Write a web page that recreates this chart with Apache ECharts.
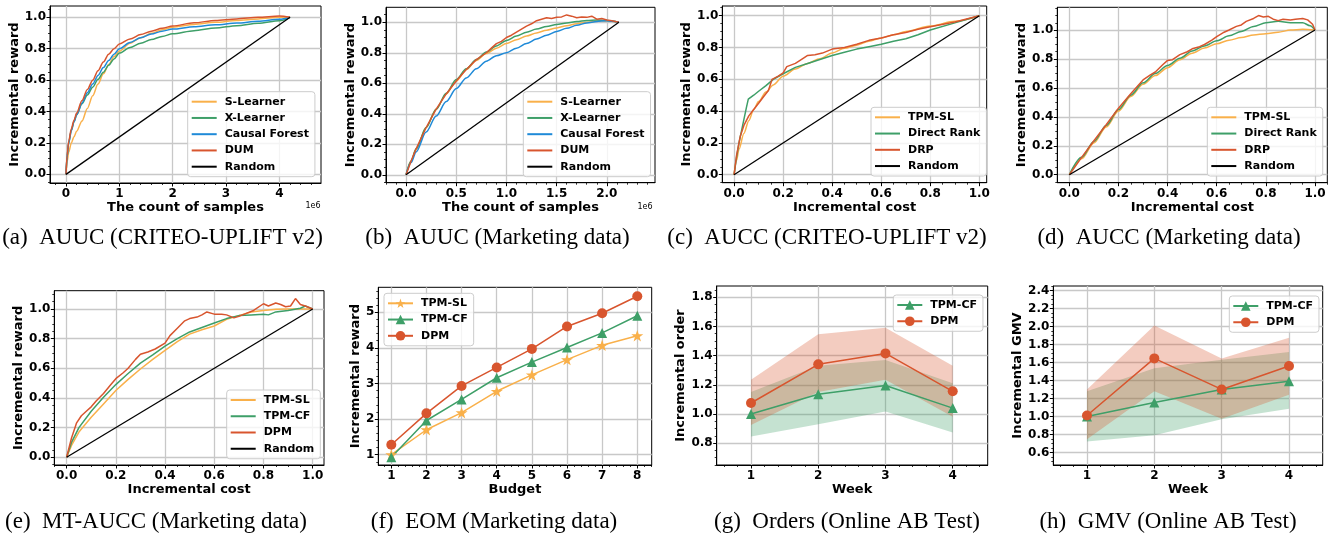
<!DOCTYPE html>
<html><head><meta charset="utf-8">
<script src="https://cdn.jsdelivr.net/npm/echarts@6/dist/echarts.min.js"></script>
<style>
html,body{margin:0;padding:0;background:#fff;}
#wrap{position:relative;width:1338px;height:540px;overflow:hidden;background:#fff;}
.pane{position:absolute;left:0;top:0;width:1338px;height:540px;}
</style></head><body><div id="wrap"></div>
<script>
// ---------------- DATA ----------------
// (a) AUUC CRITEO-UPLIFT v2 ; x in units of 1e6 samples
const xA   = [0, 0.02, 0.05, 0.1, 0.15, 0.2, 0.3, 0.4, 0.5, 0.6, 0.7, 0.8, 0.9, 1.0, 1.2, 1.4, 1.6, 1.8, 2.0, 2.4, 2.8, 3.2, 3.6, 4.0, 4.2];
const aSL  = [0, 0.08, 0.14, 0.20, 0.24, 0.275, 0.34, 0.42, 0.50, 0.575, 0.64, 0.70, 0.75, 0.785, 0.835, 0.87, 0.898, 0.92, 0.937, 0.955, 0.968, 0.98, 0.99, 1.0, 1.0];
const aXL  = [0, 0.11, 0.20, 0.28, 0.335, 0.38, 0.45, 0.505, 0.555, 0.605, 0.65, 0.695, 0.735, 0.772, 0.808, 0.835, 0.858, 0.878, 0.895, 0.915, 0.932, 0.947, 0.962, 0.978, 1.0];
const aCF  = [0, 0.11, 0.20, 0.28, 0.335, 0.38, 0.455, 0.52, 0.575, 0.63, 0.68, 0.725, 0.765, 0.80, 0.84, 0.87, 0.893, 0.912, 0.925, 0.94, 0.952, 0.963, 0.975, 0.987, 1.0];
const aDUM = [0, 0.12, 0.21, 0.29, 0.345, 0.39, 0.47, 0.54, 0.60, 0.66, 0.715, 0.765, 0.80, 0.83, 0.862, 0.89, 0.912, 0.93, 0.945, 0.965, 0.98, 0.99, 1.0, 1.008, 1.0];
const aRandX = [0, 4.2];
const aRand  = [0, 1];

// (b) AUUC Marketing data ; x in units of 1e6 samples
const xB   = [0, 0.05, 0.1, 0.2, 0.3, 0.4, 0.5, 0.6, 0.7, 0.8, 0.9, 1.0, 1.1, 1.2, 1.3, 1.4, 1.5, 1.6, 1.7, 1.8, 1.9, 2.0, 2.12];
const bSL  = [0, 0.09, 0.17, 0.31, 0.43, 0.53, 0.615, 0.69, 0.75, 0.795, 0.83, 0.86, 0.885, 0.91, 0.93, 0.948, 0.963, 0.977, 0.99, 1.0, 1.008, 1.01, 1.0];
const bXL  = [0, 0.09, 0.17, 0.31, 0.43, 0.535, 0.625, 0.695, 0.755, 0.805, 0.845, 0.88, 0.91, 0.935, 0.955, 0.972, 0.985, 0.995, 1.005, 1.012, 1.015, 1.012, 1.0];
const bCF  = [0, 0.08, 0.15, 0.28, 0.385, 0.48, 0.565, 0.635, 0.695, 0.745, 0.78, 0.80, 0.83, 0.86, 0.89, 0.915, 0.94, 0.96, 0.98, 0.995, 1.005, 1.01, 1.0];
const xBD  = [0, 0.05, 0.1, 0.2, 0.3, 0.4, 0.5, 0.6, 0.7, 0.8, 0.85, 0.9, 0.95, 1.0, 1.05, 1.1, 1.15, 1.2, 1.25, 1.3, 1.35, 1.4, 1.45, 1.5, 1.55, 1.6, 1.65, 1.7, 1.75, 1.8, 1.85, 1.9, 1.95, 2.0, 2.05, 2.12];
const bDUM = [0, 0.09, 0.17, 0.31, 0.43, 0.53, 0.615, 0.69, 0.755, 0.80, 0.83, 0.86, 0.875, 0.90, 0.915, 0.935, 0.955, 0.975, 0.99, 1.01, 1.02, 1.03, 1.025, 1.033, 1.035, 1.048, 1.04, 1.03, 1.035, 1.032, 1.04, 1.02, 1.025, 1.015, 1.01, 1.0];
const bRandX = [0, 2.12];
const bRand  = [0, 1];

// (c) AUCC CRITEO-UPLIFT v2
const cSL  = [[0,0],[0.01,0.09],[0.02,0.16],[0.04,0.26],[0.06,0.34],[0.08,0.41],[0.1,0.46],[0.13,0.52],[0.16,0.565],[0.2,0.62],[0.25,0.665],[0.3,0.70],[0.35,0.73],[0.4,0.765],[0.45,0.795],[0.5,0.815],[0.55,0.84],[0.6,0.86],[0.65,0.88],[0.7,0.90],[0.8,0.935],[0.9,0.965],[1,1]];
const cDR  = [[0,0],[0.01,0.11],[0.02,0.2],[0.035,0.31],[0.05,0.42],[0.058,0.475],[0.08,0.5],[0.1,0.525],[0.13,0.56],[0.16,0.6],[0.2,0.635],[0.25,0.675],[0.3,0.70],[0.35,0.725],[0.4,0.75],[0.45,0.77],[0.5,0.79],[0.55,0.805],[0.6,0.82],[0.65,0.84],[0.7,0.855],[0.75,0.88],[0.8,0.91],[0.9,0.955],[1,1]];
const cDRP = [[0,0],[0.01,0.12],[0.025,0.24],[0.04,0.31],[0.06,0.37],[0.08,0.41],[0.1,0.45],[0.12,0.49],[0.14,0.53],[0.155,0.6],[0.18,0.62],[0.2,0.64],[0.215,0.68],[0.25,0.70],[0.28,0.73],[0.3,0.75],[0.33,0.755],[0.36,0.765],[0.4,0.79],[0.45,0.80],[0.5,0.82],[0.55,0.845],[0.6,0.86],[0.65,0.88],[0.7,0.895],[0.75,0.915],[0.8,0.93],[0.9,0.96],[1,1]];
const cRand = [[0,0],[1,1]];

// (d) AUCC Marketing data
const dSL  = [[0,0],[0.05,0.11],[0.1,0.22],[0.15,0.33],[0.2,0.44],[0.25,0.54],[0.3,0.625],[0.35,0.685],[0.4,0.74],[0.45,0.795],[0.5,0.84],[0.55,0.875],[0.6,0.905],[0.65,0.93],[0.7,0.948],[0.75,0.965],[0.8,0.975],[0.85,0.985],[0.9,1.0],[0.95,1.005],[1,1]];
const dDR  = [[0,0],[0.05,0.12],[0.1,0.23],[0.15,0.34],[0.2,0.45],[0.25,0.55],[0.3,0.635],[0.35,0.70],[0.4,0.755],[0.45,0.805],[0.5,0.855],[0.55,0.89],[0.6,0.925],[0.65,0.96],[0.7,0.99],[0.75,1.025],[0.8,1.05],[0.85,1.06],[0.9,1.05],[0.95,1.05],[0.98,1.03],[1,1]];
const dDRP = [[0,0],[0.05,0.12],[0.1,0.235],[0.15,0.345],[0.2,0.46],[0.25,0.56],[0.3,0.655],[0.33,0.69],[0.35,0.71],[0.38,0.76],[0.4,0.79],[0.42,0.795],[0.45,0.83],[0.48,0.85],[0.5,0.87],[0.53,0.885],[0.55,0.9],[0.58,0.93],[0.6,0.955],[0.63,0.985],[0.65,1.0],[0.68,1.025],[0.7,1.035],[0.72,1.06],[0.75,1.08],[0.77,1.10],[0.79,1.09],[0.81,1.095],[0.83,1.075],[0.85,1.065],[0.87,1.075],[0.9,1.07],[0.92,1.075],[0.95,1.08],[0.97,1.07],[0.99,1.04],[1,1]];
const dRand = [[0,0],[1,1]];

// (e) MT-AUCC Marketing data
const eSL  = [[0,0],[0.02,0.08],[0.05,0.17],[0.1,0.27],[0.15,0.36],[0.2,0.45],[0.25,0.525],[0.3,0.595],[0.35,0.66],[0.4,0.72],[0.45,0.78],[0.5,0.83],[0.55,0.86],[0.6,0.885],[0.65,0.93],[0.7,0.955],[0.75,0.98],[0.8,0.99],[0.85,0.998],[0.9,1.0],[0.95,1.0],[1,1]];
const eCF  = [[0,0],[0.02,0.1],[0.05,0.2],[0.1,0.31],[0.15,0.405],[0.2,0.49],[0.25,0.565],[0.3,0.635],[0.35,0.69],[0.4,0.75],[0.45,0.8],[0.5,0.845],[0.55,0.875],[0.6,0.905],[0.65,0.935],[0.7,0.955],[0.75,0.96],[0.8,0.965],[0.82,0.96],[0.85,0.98],[0.9,0.99],[0.95,1.005],[0.97,1.02],[1,1]];
const eDPM = [[0,0],[0.02,0.13],[0.04,0.23],[0.06,0.28],[0.08,0.31],[0.1,0.34],[0.12,0.38],[0.15,0.43],[0.18,0.49],[0.2,0.53],[0.23,0.57],[0.25,0.60],[0.28,0.66],[0.3,0.695],[0.33,0.71],[0.36,0.73],[0.4,0.77],[0.42,0.82],[0.45,0.87],[0.48,0.92],[0.5,0.935],[0.53,0.945],[0.55,0.96],[0.57,0.98],[0.6,0.965],[0.63,0.965],[0.65,0.96],[0.68,0.94],[0.7,0.95],[0.73,0.97],[0.76,0.99],[0.8,1.035],[0.82,1.02],[0.85,1.04],[0.87,1.03],[0.89,1.015],[0.91,1.02],[0.93,1.07],[0.95,1.03],[0.97,1.02],[1,1]];
const eRand = [[0,0],[1,1]];

// (f) EOM Marketing data
const budget = [1, 2, 3, 4, 5, 6, 7, 8];
const fSL  = [1.00, 1.70, 2.18, 2.78, 3.24, 3.67, 4.07, 4.34];
const fCF  = [0.93, 1.96, 2.55, 3.16, 3.60, 4.01, 4.42, 4.90];
const fDPM = [1.28, 2.16, 2.93, 3.45, 3.97, 4.60, 4.97, 5.45];

// (g) Orders online AB test
const week = [1, 2, 3, 4];
const gCF    = [1.00, 1.135, 1.195, 1.04];
const gCFlo  = [0.846, 0.93, 1.017, 0.873];
const gCFhi  = [1.15, 1.33, 1.37, 1.21];
const gDPM   = [1.075, 1.34, 1.415, 1.155];
const gDPMlo = [0.925, 1.15, 1.235, 0.98];
const gDPMhi = [1.234, 1.546, 1.59, 1.33];

// (h) GMV online AB test
const hCF    = [1.00, 1.155, 1.30, 1.39];
const hCFlo  = [0.72, 0.79, 0.97, 1.085];
const hCFhi  = [1.28, 1.535, 1.63, 1.715];
const hDPM   = [1.01, 1.645, 1.30, 1.56];
const hDPMlo = [0.745, 1.28, 0.973, 1.24];
const hDPMhi = [1.30, 2.01, 1.645, 1.875];

// tick values / labels
const t01 = [0, 0.2, 0.4, 0.6, 0.8, 1.0];
const l01 = ['0.0', '0.2', '0.4', '0.6', '0.8', '1.0'];
const tA = [0, 1, 2, 3, 4];             const lA = ['0', '1', '2', '3', '4'];
const tB = [0, 0.5, 1.0, 1.5, 2.0];     const lB = ['0.0', '0.5', '1.0', '1.5', '2.0'];
const tFx = [1, 2, 3, 4, 5, 6, 7, 8];   const lFx = ['1', '2', '3', '4', '5', '6', '7', '8'];
const tFy = [1, 2, 3, 4, 5];            const lFy = ['1', '2', '3', '4', '5'];
const tW = [1, 2, 3, 4];                const lW = ['1', '2', '3', '4'];
const tGy = [0.8, 1.0, 1.2, 1.4, 1.6, 1.8]; const lGy = ['0.8', '1.0', '1.2', '1.4', '1.6', '1.8'];
const tHy = [0.6, 0.8, 1.0, 1.2, 1.4, 1.6, 1.8, 2.0, 2.2, 2.4];
const lHy = ['0.6', '0.8', '1.0', '1.2', '1.4', '1.6', '1.8', '2.0', '2.2', '2.4'];

// ---------------- STYLE / BUILD ----------------
const FONT = 'DejaVu Sans';
const C_OR = '#F9B04A', C_GR = '#3E9F68', C_BL = '#1F8AD8', C_RD = '#D8552E', C_BK = '#000000';
const STAR = 'path://M50,2 L61.5,36 L97,36 L68.5,57.5 L79,92 L50,71 L21,92 L31.5,57.5 L3,36 L38.5,36 Z';

function zip(xs, ys) { return xs.map((x, i) => [x, ys[i]]); }
function minorVals(min, max, step, majors) {
  const out = [];
  const s = Math.ceil(min / step - 1e-9), e = Math.floor(max / step + 1e-9);
  for (let k = s; k <= e; k++) {
    const v = +(k * step).toFixed(6);
    if (!majors.some(m => Math.abs(m - v) < 1e-9)) out.push(v);
  }
  return out;
}
function axes(dim, c) {
  const pos = dim === 'x' ? 'bottom' : 'left';
  const main = {
    type: 'value', gridIndex: 0, position: pos, min: c.min, max: c.max,
    axisLine: { show: true, onZero: false, lineStyle: { color: '#000', width: 1 } },
    axisTick: { show: true, inside: false, length: 3.5, customValues: c.ticks, lineStyle: { color: '#000', width: 1 } },
    axisLabel: {
      show: true, customValues: c.ticks, margin: dim === 'x' ? 5 : 4, color: '#000',
      fontFamily: FONT, fontWeight: 'bold', fontSize: 12,
      formatter: v => { const i = c.ticks.findIndex(t => Math.abs(t - v) < 1e-9); return i >= 0 ? c.labels[i] : ''; }
    },
    splitLine: { show: true, lineStyle: { color: '#c8c8c8', width: 1.3 } },
    minorTick: { show: false }, minorSplitLine: { show: false },
    name: c.name, nameLocation: 'middle', nameGap: c.gap,
    nameTextStyle: { fontFamily: FONT, fontWeight: 'bold', fontSize: 13, color: '#000' }
  };
  const minor = {
    type: 'value', gridIndex: 0, position: pos, min: c.min, max: c.max,
    axisLine: { show: false, onZero: false },
    axisTick: { show: true, inside: false, length: 2, customValues: minorVals(c.min, c.max, c.minor, c.ticks), lineStyle: { color: '#000', width: 0.8 } },
    axisLabel: { show: false }, splitLine: { show: false }, minorTick: { show: false }
  };
  return [main, minor];
}
function line(name, data, color, o) {
  o = o || {};
  return {
    type: 'line', name: name, data: data, xAxisIndex: 0, yAxisIndex: 0,
    symbol: o.symbol || 'circle', symbolSize: o.size || 10, symbolKeepAspect: true, showSymbol: !!o.symbol,
    smooth: o.smooth || false, smoothMonotone: 'x',
    lineStyle: { color: color, width: o.width || 1.5 }, itemStyle: { color: color, borderWidth: 0 },
    emphasis: { disabled: true }, silent: true, z: o.z || 3
  };
}
function band(xs, lo, hi, color) {
  const rows = xs.map((x, i) => [x, lo[i], hi[i]]);
  return {
    type: 'custom', xAxisIndex: 0, yAxisIndex: 0, data: rows, encode: { x: 0, y: [1, 2] }, silent: true, z: 1,
    renderItem: function (params, api) {
      if (params.dataIndex !== 0) return null;
      const n = rows.length, up = [], dn = [];
      for (let i = 0; i < n; i++) {
        up.push(api.coord([api.value(0, i), api.value(2, i)]));
        dn.push(api.coord([api.value(0, i), api.value(1, i)]));
      }
      return { type: 'polygon', shape: { points: up.concat(dn.reverse()) }, style: { fill: color, opacity: 0.3 } };
    }
  };
}
function legend(left, top, names, hideSymbol) {
  const lg = {
    orient: 'vertical', left: left, top: top, data: names, selectedMode: false,
    itemWidth: 25, itemHeight: 12, itemGap: 4.25, padding: [4, 6, 4, 3],
    backgroundColor: 'rgba(255,255,255,0.8)', borderColor: '#cccccc', borderWidth: 1, borderRadius: 3,
    textStyle: { fontFamily: FONT, fontWeight: 'bold', fontSize: 11, color: '#000', lineHeight: 12, padding: [0, 0, 0, 3] }
  };
  if (hideSymbol) lg.itemStyle = { opacity: 0 };
  return lg;
}
function caption(text, x, y) {
  return { type: 'text', x: x, y: y, silent: true,
    style: { text: text, align: 'center', verticalAlign: 'middle', fontFamily: 'Liberation Serif', fontSize: 23, fill: '#000' } };
}
function smallText(text, x, y) {
  return { type: 'text', x: x, y: y, silent: true,
    style: { text: text, align: 'center', verticalAlign: 'middle', fontFamily: FONT, fontSize: 8, fill: '#000' } };
}

const wrap = document.getElementById('wrap');
function panel(p) {
  const div = document.createElement('div');
  div.className = 'pane';
  wrap.appendChild(div);
  const chart = echarts.init(div, null, { renderer: 'canvas', width: 1338, height: 540 });
  chart.setOption({
    animation: false,
    backgroundColor: 'transparent',
    grid: { left: p.grid[0], top: p.grid[1], width: p.grid[2], height: p.grid[3], containLabel: false, outerBoundsMode: 'none',
            show: true, borderColor: '#000', borderWidth: 1, backgroundColor: 'transparent' },
    xAxis: axes('x', p.x), yAxis: axes('y', p.y),
    legend: p.legend, series: p.series, graphic: p.graphic
  });
}

// (a)
panel({
  grid: [50, 6, 271, 177],
  x: { min: -0.3, max: 4.78, ticks: tA, labels: lA, minor: 0.2, name: 'The count of samples', gap: 18 },
  y: { min: -0.055, max: 1.072, ticks: t01, labels: l01, minor: 0.05, name: 'Incremental reward', gap: 29 },
  legend: legend(187.7, 91.7, ['S-Learner', 'X-Learner', 'Causal Forest', 'DUM', 'Random'], true),
  series: [
    line('S-Learner', zip(xA, aSL), C_OR, { smooth: 0.3 }),
    line('X-Learner', zip(xA, aXL), C_GR, { smooth: 0.3 }),
    line('Causal Forest', zip(xA, aCF), C_BL, { smooth: 0.3 }),
    line('DUM', zip(xA, aDUM), C_RD, { smooth: 0.3 }),
    line('Random', zip(aRandX, aRand), C_BK, { width: 1.3 })
  ],
  graphic: [caption('(a)  AUUC (CRITEO-UPLIFT v2)', 162.5, 238), smallText('1e6', 313, 205.5)]
});
// (b)
panel({
  grid: [386, 7.3, 269, 175.4],
  x: { min: -0.2, max: 2.48, ticks: tB, labels: lB, minor: 0.1, name: 'The count of samples', gap: 18 },
  y: { min: -0.052, max: 1.098, ticks: t01, labels: l01, minor: 0.05, name: 'Incremental reward', gap: 29 },
  legend: legend(523.3, 91.7, ['S-Learner', 'X-Learner', 'Causal Forest', 'DUM', 'Random'], true),
  series: [
    line('S-Learner', zip(xB, bSL), C_OR, { smooth: 0.3 }),
    line('X-Learner', zip(xB, bXL), C_GR, { smooth: 0.3 }),
    line('Causal Forest', zip(xB, bCF), C_BL, { smooth: 0.3 }),
    line('DUM', zip(xBD, bDUM), C_RD),
    line('Random', zip(bRandX, bRand), C_BK, { width: 1.3 })
  ],
  graphic: [caption('(b)  AUUC (Marketing data)', 497.5, 238), smallText('1e6', 645, 206.5)]
});
// (c)
panel({
  grid: [722.3, 6, 264.4, 176.7],
  x: { min: -0.048, max: 1.03, ticks: t01, labels: l01, minor: 0.05, name: 'Incremental cost', gap: 18 },
  y: { min: -0.05, max: 1.061, ticks: t01, labels: l01, minor: 0.05, name: 'Incremental reward', gap: 29 },
  legend: legend(871, 107.3, ['TPM-SL', 'Direct Rank', 'DRP', 'Random'], true),
  series: [
    line('TPM-SL', cSL, C_OR, { smooth: 0.3 }),
    line('Direct Rank', cDR, C_GR),
    line('DRP', cDRP, C_RD),
    line('Random', cRand, C_BK, { width: 1.3 })
  ],
  graphic: [caption('(c)  AUCC (CRITEO-UPLIFT v2)', 827, 238)]
});
// (d)
panel({
  grid: [1057.3, 7.3, 270, 175.4],
  x: { min: -0.049, max: 1.05, ticks: t01, labels: l01, minor: 0.05, name: 'Incremental cost', gap: 18 },
  y: { min: -0.055, max: 1.157, ticks: t01, labels: l01, minor: 0.05, name: 'Incremental reward', gap: 29 },
  legend: legend(1207.3, 107.3, ['TPM-SL', 'Direct Rank', 'DRP', 'Random'], true),
  series: [
    line('TPM-SL', dSL, C_OR, { smooth: 0.3 }),
    line('Direct Rank', dDR, C_GR, { smooth: 0.3 }),
    line('DRP', dDRP, C_RD),
    line('Random', dRand, C_BK, { width: 1.3 })
  ],
  graphic: [caption('(d)  AUCC (Marketing data)', 1169, 238)]
});
// (e)
panel({
  grid: [54.3, 290.7, 269.7, 174.3],
  x: { min: -0.05, max: 1.046, ticks: t01, labels: l01, minor: 0.05, name: 'Incremental cost', gap: 18 },
  y: { min: -0.052, max: 1.123, ticks: t01, labels: l01, minor: 0.05, name: 'Incremental reward', gap: 29 },
  legend: legend(226.7, 390, ['TPM-SL', 'TPM-CF', 'DPM', 'Random'], true),
  series: [
    line('TPM-SL', eSL, C_OR),
    line('TPM-CF', eCF, C_GR),
    line('DPM', eDPM, C_RD),
    line('Random', eRand, C_BK, { width: 1.3 })
  ],
  graphic: [caption('(e)  MT-AUCC (Marketing data)', 156, 521.5)]
});
// (f)
panel({
  grid: [378.3, 287.3, 273.4, 177.7],
  x: { min: 0.63, max: 8.41, ticks: tFx, labels: lFx, minor: 0.2, name: 'Budget', gap: 18 },
  y: { min: 0.71, max: 5.70, ticks: tFy, labels: lFy, minor: 0.2, name: 'Incremental reward', gap: 16 },
  legend: legend(384, 293.3, ['TPM-SL', 'TPM-CF', 'DPM'], false),
  series: [
    line('TPM-SL', zip(budget, fSL), C_OR, { symbol: STAR, size: 12 }),
    line('TPM-CF', zip(budget, fCF), C_GR, { symbol: 'triangle', size: 10 }),
    line('DPM', zip(budget, fDPM), C_RD, { symbol: 'circle', size: 10 })
  ],
  graphic: [caption('(f)  EOM (Marketing data)', 494, 521.5)]
});
// (g)
panel({
  grid: [716.7, 286, 271, 179],
  x: { min: 0.49, max: 4.52, ticks: tW, labels: lW, minor: 0.2, name: 'Week', gap: 18 },
  y: { min: 0.65, max: 1.877, ticks: tGy, labels: lGy, minor: 0.05, name: 'Incremental order', gap: 29 },
  legend: legend(893.3, 295, ['TPM-CF', 'DPM'], false),
  series: [
    band(week, gCFlo, gCFhi, C_GR),
    band(week, gDPMlo, gDPMhi, C_RD),
    line('TPM-CF', zip(week, gCF), C_GR, { symbol: 'triangle', size: 10, z: 4 }),
    line('DPM', zip(week, gDPM), C_RD, { symbol: 'circle', size: 10, z: 4 })
  ],
  graphic: [caption('(g)  Orders (Online AB Test)', 847, 521.5)]
});
// (h)
panel({
  grid: [1053.3, 286, 269.4, 179],
  x: { min: 0.5, max: 4.5, ticks: tW, labels: lW, minor: 0.2, name: 'Week', gap: 18 },
  y: { min: 0.46, max: 2.45, ticks: tHy, labels: lHy, minor: 0.05, name: 'Incremental GMV', gap: 29 },
  legend: legend(1229.3, 296, ['TPM-CF', 'DPM'], false),
  series: [
    band(week, hCFlo, hCFhi, C_GR),
    band(week, hDPMlo, hDPMhi, C_RD),
    line('TPM-CF', zip(week, hCF), C_GR, { symbol: 'triangle', size: 10, z: 4 }),
    line('DPM', zip(week, hDPM), C_RD, { symbol: 'circle', size: 10, z: 4 })
  ],
  graphic: [caption('(h)  GMV (Online AB Test)', 1168, 521.5)]
});
</script></body></html>
